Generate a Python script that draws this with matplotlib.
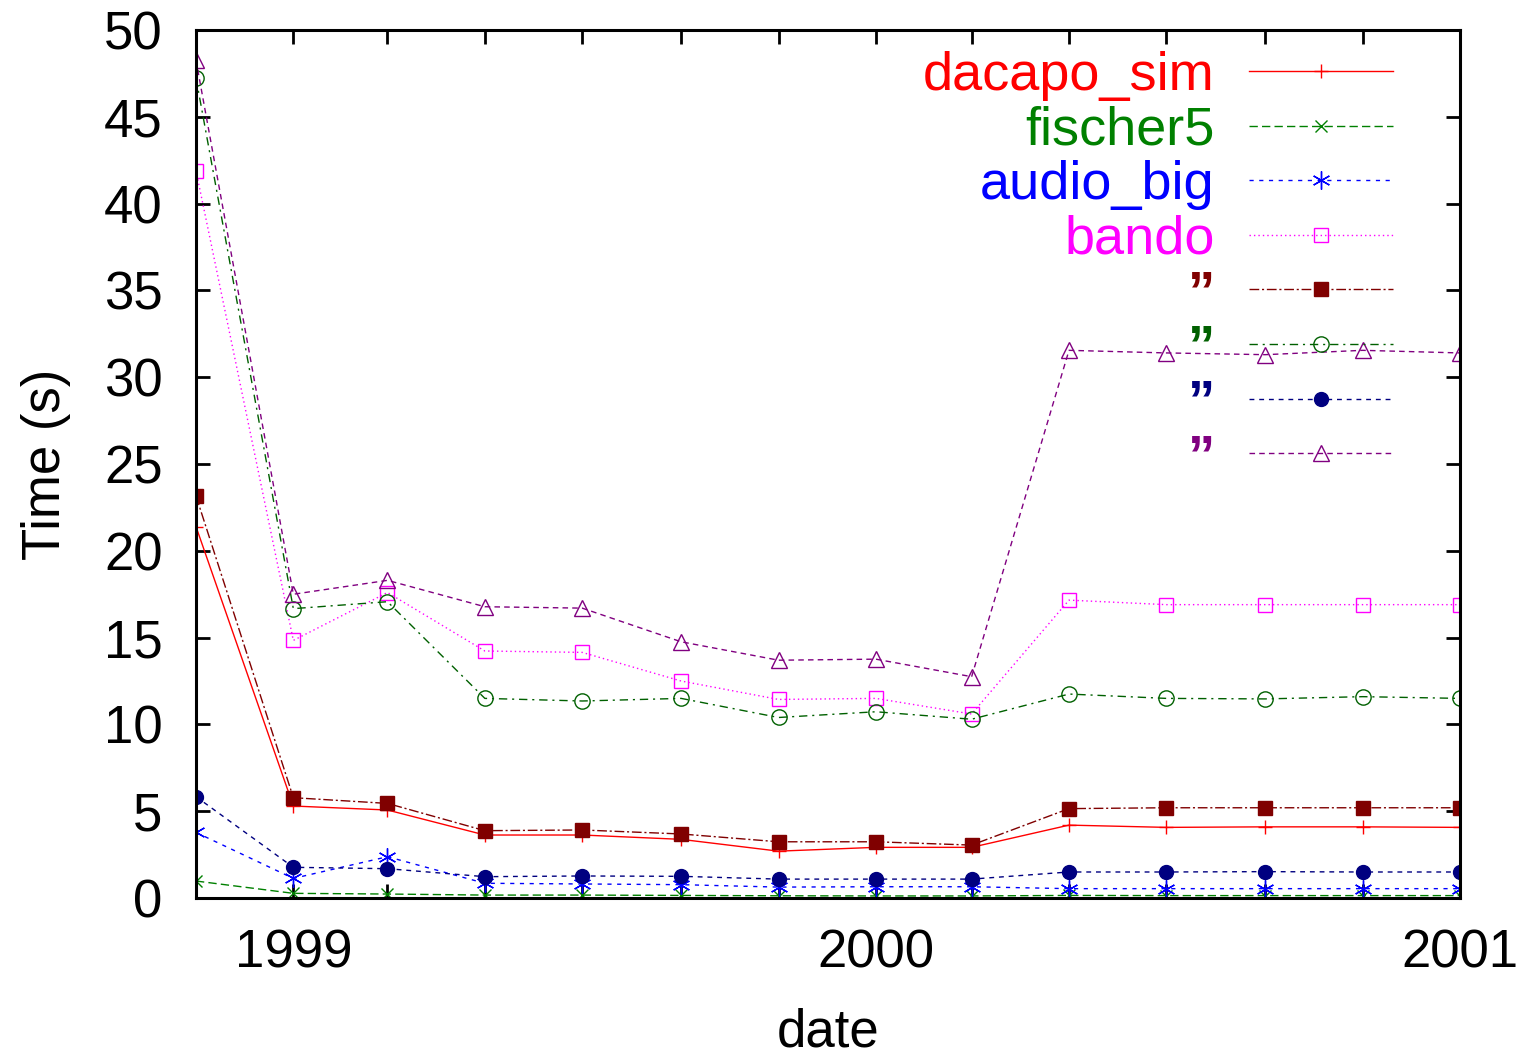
import matplotlib
matplotlib.use("Agg")
import matplotlib.pyplot as plt
import matplotlib.dates as mdates
import pandas as pd

plt.rcParams['font.family'] = ['Liberation Sans', 'DejaVu Sans']

dates = ["1998-11-01", "1999-01-01", "1999-03-01", "1999-05-01", "1999-07-01", "1999-09-01", "1999-11-01",
         "2000-01-01", "2000-03-01", "2000-05-01", "2000-07-01", "2000-09-01", "2000-11-01", "2001-01-01"]

dacapo_sim = [21.4, 5.3, 5.07, 3.63, 3.63, 3.38, 2.7, 2.92, 2.92, 4.2, 4.07, 4.1, 4.1, 4.07]
fischer5 = [0.98, 0.27, 0.23, 0.17, 0.17, 0.15, 0.13, 0.12, 0.12, 0.15, 0.14, 0.14, 0.14, 0.14]
audio_big = [3.78, 1.13, 2.38, 0.85, 0.81, 0.77, 0.63, 0.65, 0.65, 0.54, 0.54, 0.54, 0.54, 0.54]
bando = [41.9, 14.84, 17.6, 14.23, 14.15, 12.5, 11.44, 11.5, 10.6, 17.16, 16.9, 16.9, 16.9, 16.9]
dacapo_sim_2 = [23.17, 5.78, 5.45, 3.88, 3.92, 3.69, 3.24, 3.24, 3.05, 5.15, 5.2, 5.2, 5.2, 5.2]
fischer5_2 = [47.25, 16.67, 17.07, 11.5, 11.35, 11.5, 10.4, 10.73, 10.3, 11.75, 11.5, 11.47, 11.6, 11.5]
audio_big_2 = [5.84, 1.77, 1.69, 1.23, 1.27, 1.25, 1.09, 1.09, 1.09, 1.5, 1.5, 1.52, 1.5, 1.5]
bando_2 = [48.27, 17.5, 18.3, 16.78, 16.7, 14.76, 13.7, 13.76, 12.75, 31.55, 31.4, 31.3, 31.55, 31.4]

labels = ["dacapo_sim", "fischer5", "audio_big", "bando", "\u201d", "\u201d", "\u201d", "\u201d"]

x = pd.to_datetime(dates)

fig = plt.figure(figsize=(15.18, 10.58), dpi=100)
ax = fig.add_axes([0.1291, 0.1512, 0.8327, 0.8204])

styles = [
    (dacapo_sim, '#ff0000', '+', 'none', (None, None), 10),
    (fischer5, '#008000', 'x', 'none', (6, 3), 9),
    (audio_big, '#0000ff', (6, 2, 0), 'none', (3, 4), 13),
    (bando, '#ff00ff', 's', 'none', (1, 2.2), 10),
    (dacapo_sim_2, '#800000', 's', '#800000', (7, 2, 1.5, 2), 10),
    (fischer5_2, '#006000', 'o', 'none', (6, 3.5, 1.5, 3.5), 11),
    (audio_big_2, '#000080', 'o', '#000080', (3.5, 3.5), 10),
    (bando_2, '#800080', '^', 'none', (4, 3), 11),
]

for (vals, color, marker, mfc, dashes, ms), label in zip(styles, labels):
    line, = ax.plot(x, vals, color=color, marker=marker, markerfacecolor=mfc, markeredgecolor=color,
                    markersize=ms, markeredgewidth=1.0, linewidth=1.0, label=label)
    if dashes[0] is not None:
        line.set_dashes(dashes)

ax.set_xlim(x[0], pd.Timestamp("2001-01-01"))
ax.set_ylim(0, 50)
ax.set_yticks(range(0, 51, 5))
ax.xaxis.set_major_locator(mdates.YearLocator())
ax.xaxis.set_major_formatter(mdates.DateFormatter('%Y'))
ax.xaxis.set_minor_locator(mdates.MonthLocator(bymonth=[1, 3, 5, 7, 9, 11]))

ax.tick_params(which='both', direction='in', top=True, right=True, length=10, width=2)
ax.tick_params(axis='y', labelsize=38, pad=24)
ax.tick_params(axis='x', labelsize=38, pad=22)
for s in ax.spines.values():
    s.set_linewidth(2.2)

ax.set_xlabel('date', fontsize=38, labelpad=21)
ax.set_ylabel('Time (s)', fontsize=38, labelpad=24)

leg = ax.legend(loc='upper right', bbox_to_anchor=(0.947, 0.976), frameon=False, markerfirst=False,
                fontsize=39, handlelength=2.65, handletextpad=0.64, labelspacing=0.085,
                borderpad=0, borderaxespad=0, labelcolor='linecolor')
for t in leg.get_texts()[4:]:
    t.set_fontweight('bold')

fig.savefig('out.png', dpi=100)
